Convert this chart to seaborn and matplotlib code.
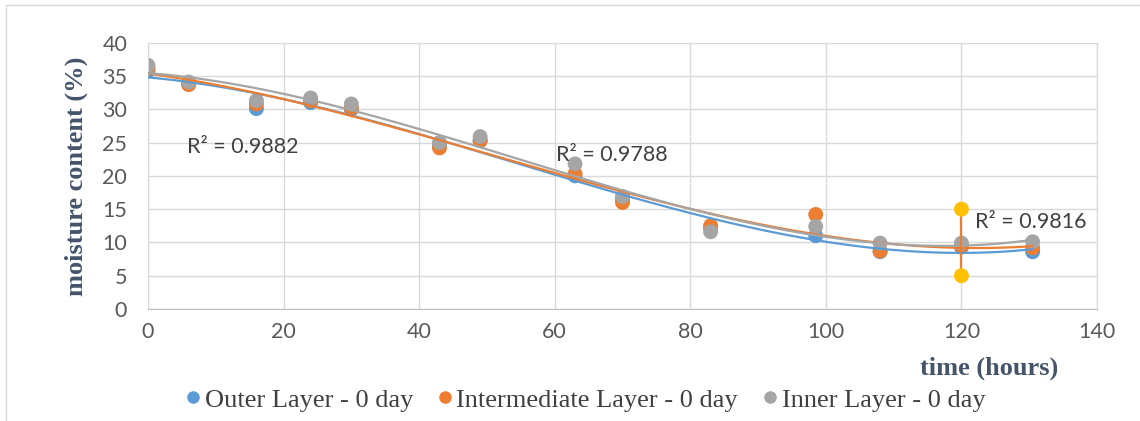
import numpy as np
import pandas as pd
import matplotlib
matplotlib.use('Agg')
import matplotlib.pyplot as plt
from matplotlib.lines import Line2D
import seaborn as sns

# values
time_h = [0, 6, 16, 24, 30, 43, 49, 63, 70, 83, 98.5, 108, 120, 130.5]
outer = [35.8, 33.8, 30.1, 31.0, 30.0, 24.5, 25.3, 20.0, 16.6, 12.2, 11.0, 8.6, 9.3, 8.6]
intermediate = [36.2, 33.7, 30.8, 31.3, 30.2, 24.2, 25.3, 20.3, 16.0, 12.5, 14.2, 8.7, 9.5, 9.2]
inner = [36.6, 34.1, 31.3, 31.7, 30.8, 25.0, 25.9, 21.8, 16.9, 11.6, 12.4, 9.9, 9.9, 10.1]
series_names = ['Outer Layer - 0 day', 'Intermediate Layer - 0 day', 'Inner Layer - 0 day']
colors = ['#5B9BD5', '#ED7D31', '#A5A5A5']

# error marker at 120 h
err_x = [120, 120]
err_y = [15, 5]

r2_labels = ['R² = 0.9882', 'R² = 0.9788', 'R² = 0.9816']
r2_pos = [(5.7, 24.3), (60.2, 23.1), (122, 13.1)]

xticks = list(range(0, 141, 20))
yticks = list(range(0, 41, 5))

df = pd.DataFrame({
    'time': time_h * 3,
    'moisture': outer + intermediate + inner,
    'layer': sum([[n] * len(time_h) for n in series_names], []),
})

sns.set_style('white')
fig = plt.figure(figsize=(11.4, 4.21), dpi=100)
ax = fig.add_axes([0.1298, 0.266, 0.8325, 0.6326])

sns.scatterplot(data=df, x='time', y='moisture', hue='layer', palette=colors,
                s=115, edgecolor='none', legend=False, ax=ax, zorder=2)

for name, c in zip(series_names, colors):
    sub = df[df['layer'] == name]
    sns.regplot(data=sub, x='time', y='moisture', order=3, ci=None, scatter=False,
                truncate=True, line_kws={'color': c, 'lw': 1.6, 'zorder': 3}, ax=ax)

ax.plot(err_x, err_y, color='#ED7D31', lw=1.6, zorder=3)
sns.scatterplot(x=err_x, y=err_y, color='#FFC000', s=115, edgecolor='none', ax=ax, zorder=4)

for txt, (tx, ty) in zip(r2_labels, r2_pos):
    ax.text(tx, ty, txt, fontsize=15.5, family='Lato', color='#404040', va='center', zorder=5)

ax.set_xlim(0, 140)
ax.set_ylim(0, 40)
ax.set_xticks(xticks)
ax.set_yticks(yticks)
ax.grid(True, color='#D9D9D9', lw=1)
ax.set_axisbelow(True)
for sp in ax.spines.values():
    sp.set_color('#D9D9D9')
ax.spines['bottom'].set_color('#BFBFBF')
ax.tick_params(length=0, labelsize=15.5, colors='#595959')
ax.tick_params(axis='y', pad=15)
ax.tick_params(axis='x', pad=9)
for lab in ax.get_xticklabels() + ax.get_yticklabels():
    lab.set_family('Lato')
ax.set_xlabel('')
ax.set_ylabel('moisture content (%)', fontsize=19, family='Liberation Serif',
              fontweight='bold', color='#44546A', labelpad=10)

fig.text(1058 / 1140, 1 - 368 / 421, 'time (hours)', fontsize=19, family='Liberation Serif',
         fontweight='bold', color='#44546A', ha='right', va='center')

handles = [Line2D([], [], marker='o', ls='', color=c, markersize=8) for c in colors]
fig.legend(handles, series_names, loc='center', bbox_to_anchor=(0.512, 0.05), ncol=3,
           frameon=False, handletextpad=0.05, handlelength=0.8, columnspacing=0.8,
           prop={'family': 'Liberation Serif', 'size': 19}, labelcolor='#404040')

# chart area border
fig.add_artist(Line2D([6 / 1140, 1], [1 - 5 / 421, 1 - 5 / 421], color='#D9D9D9', lw=1))
fig.add_artist(Line2D([6 / 1140, 6 / 1140], [0, 1 - 5 / 421], color='#D9D9D9', lw=1))

fig.savefig('out.png', dpi=100)
